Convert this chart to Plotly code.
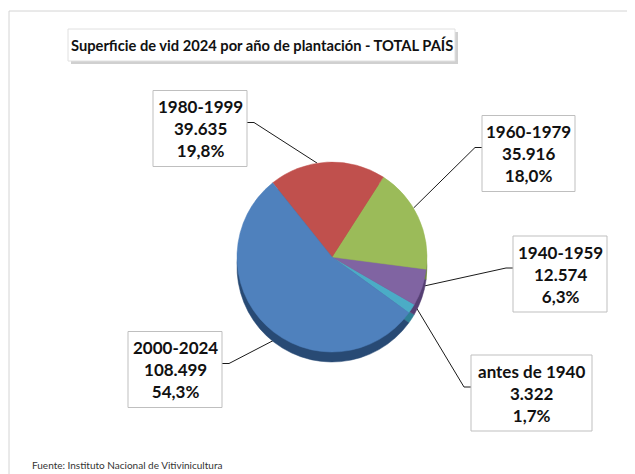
import numpy as np
import plotly.graph_objects as go

# ---------------- data ----------------
categories = ["antes de 1940", "1940-1959", "1960-1979", "1980-1999", "2000-2024"]
values = [3322, 12574, 35916, 39635, 108499]
value_labels = ["3.322", "12.574", "35.916", "39.635", "108.499"]
pct_labels = ["1,7%", "6,3%", "18,0%", "19,8%", "54,3%"]

title_text = "Superficie de vid 2024 por año de plantación - TOTAL PAÍS"
source_text = "Fuente: Instituto Nacional de Vitivinicultura"

# ---------------- style / layout ----------------
colors_top = ["#4BACC6", "#8064A2", "#9BBB59", "#C0504D", "#4F81BD"]
colors_side = ["#2E7F95", "#553F73", "#6B853A", "#8A3533", "#284A74"]

W, H = 635, 474          # browser window
OFF = 8                  # default body margin of the page
FW, FH = W - OFF, H - OFF  # figure size
CX, CY, R, DEPTH = 332, 257, 95, 10
ROT = 120
FONT = "Lato, 'Open Sans', sans-serif"

box_cx = [531.5, 560, 528.5, 200, 175]
box_cy = [393, 274, 153.5, 128.5, 369.5]
box_w = [121, 94, 93, 94, 94]
box_h = 76
TICK = 7


def px_x(x):
    return (x - OFF) / FW


def px_y(y):
    return (H - y) / FH


fig = go.Figure()

# leader lines computed from the slice geometry
total = float(sum(values))
cum = 0.0
for i, v in enumerate(values):
    a0 = ROT - 360.0 * cum / total
    a1 = a0 - 360.0 * v / total
    cum += v
    mid = np.deg2rad((a0 + a1) / 2.0)
    px = CX + R * np.sin(mid)
    py = CY - R * np.cos(mid)
    if np.cos(mid) < 0:
        py += DEPTH * 0.8
    if box_cx[i] < CX:
        bx = box_cx[i] + box_w[i] / 2.0
        tx = bx + TICK
    else:
        bx = box_cx[i] - box_w[i] / 2.0
        tx = bx - TICK
    by = box_cy[i] - 6
    fig.add_trace(go.Scatter(
        x=[bx, tx, px], y=[by, by, py], mode="lines",
        line=dict(color="#1a1a1a", width=1), hoverinfo="skip", showlegend=False,
        xaxis="x", yaxis="y"))

# side (extrusion) pie
fig.add_trace(go.Pie(
    labels=categories, values=values, sort=False, direction="counterclockwise",
    rotation=ROT, textinfo="none", hoverinfo="skip", showlegend=False,
    marker=dict(colors=colors_side, line=dict(color=colors_side, width=0.5)),
    domain=dict(x=[px_x(CX - R), px_x(CX + R)],
                y=[px_y(CY + DEPTH + R), px_y(CY + DEPTH - R)])))

# top pie
fig.add_trace(go.Pie(
    labels=categories, values=values, sort=False, direction="counterclockwise",
    rotation=ROT, textinfo="none", showlegend=False,
    marker=dict(colors=colors_top, line=dict(color=colors_top, width=0.5)),
    domain=dict(x=[px_x(CX - R), px_x(CX + R)],
                y=[px_y(CY + R), px_y(CY - R)])))

shapes = []
annotations = []

# outer frame
shapes.append(dict(type="rect", xref="x", yref="y", x0=9, y0=11, x1=700, y1=500,
                   line=dict(color="#D4D4D4", width=1), fillcolor="rgba(0,0,0,0)", layer="below"))

# title box with shadow
shapes.append(dict(type="rect", xref="x", yref="y", x0=71, y0=32, x1=458, y1=64,
                   line=dict(width=0), fillcolor="#D0D0D0", layer="above"))
shapes.append(dict(type="rect", xref="x", yref="y", x0=68, y0=29, x1=455, y1=61,
                   line=dict(color="#E0E0E0", width=1), fillcolor="white", layer="above"))
annotations.append(dict(xref="x", yref="y", x=261.5, y=45, text="<b>" + title_text + "</b>",
                        showarrow=False, font=dict(family=FONT, size=14.7, color="#111111"),
                        xanchor="center", yanchor="middle"))

# label boxes
for i in range(len(categories)):
    shapes.append(dict(type="rect", xref="x", yref="y",
                       x0=box_cx[i] - box_w[i] / 2.0, x1=box_cx[i] + box_w[i] / 2.0,
                       y0=box_cy[i] - box_h / 2.0, y1=box_cy[i] + box_h / 2.0,
                       line=dict(color="#BFBFBF", width=1), fillcolor="white", layer="above"))
    txt = "<b>%s<br>%s<br>%s</b>" % (categories[i], value_labels[i], pct_labels[i])
    annotations.append(dict(xref="x", yref="y", x=box_cx[i], y=box_cy[i], text=txt,
                            showarrow=False, align="center",
                            font=dict(family=FONT, size=17, color="#111111"),
                            xanchor="center", yanchor="middle"))

# source
annotations.append(dict(xref="x", yref="y", x=30, y=465, text=source_text, showarrow=False,
                        font=dict(family=FONT, size=10, color="#333333"),
                        xanchor="left", yanchor="middle"))

fig.update_layout(
    width=FW, height=FH, margin=dict(l=0, r=0, t=0, b=0),
    paper_bgcolor="white", plot_bgcolor="rgba(0,0,0,0)",
    xaxis=dict(range=[OFF, W], visible=False, fixedrange=True, domain=[0, 1]),
    yaxis=dict(range=[H, OFF], visible=False, fixedrange=True, domain=[0, 1]),
    shapes=shapes, annotations=annotations, showlegend=False,
)

fig.write_html("out.html")
